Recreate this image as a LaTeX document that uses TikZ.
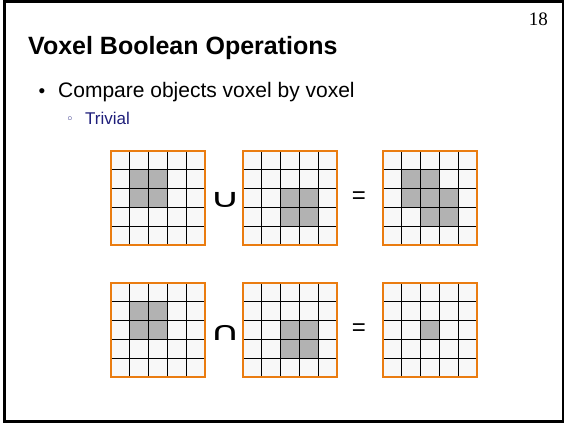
\documentclass[tikz,border=0pt]{standalone}
\usepackage{fontspec}
\setmainfont{Liberation Sans}
\newfontfamily\seriffont{Liberation Serif}
\newfontfamily\symfont{DejaVu Sans}
\usetikzlibrary{positioning}

\definecolor{voxorange}{RGB}{234,124,16}
\definecolor{voxon}{RGB}{178,178,178}
\definecolor{voxoff}{RGB}{248,248,248}
\definecolor{subblue}{RGB}{30,30,122}

% one 5x5 voxel grid, top left corner at (#1,#2), filled cells #3 (col/row)
\newcommand{\voxgrid}[3]{%
  \fill[cellbg] (#1,#2) rectangle ++(94,94);
  \foreach \c/\r in {#3}
    \fill[cellon] ({#1+\c*18.8},{#2+\r*18.8}) rectangle ++(18.8,18.8);
  \foreach \k in {1,...,4} {
    \draw[gridline] ({#1+\k*18.8},#2) -- ++(0,94);
    \draw[gridline] (#1,{#2+\k*18.8}) -- ++(94,0);
  }
  \draw[gridframe] (#1,#2) rectangle ++(94,94);
}

\begin{document}
\begin{tikzpicture}[x=1pt,y=-1pt,
    cellbg/.style={fill=voxoff},
    cellon/.style={fill=voxon},
    gridline/.style={draw=black,line width=0.9pt},
    gridframe/.style={draw=voxorange,line width=1.8pt},
    op/.style={inner sep=0pt,font=\symfont\fontsize{26}{28}\selectfont,xscale=1.6},
    eqsign/.style={inner sep=0pt,font=\fontsize{24}{26}\selectfont}]
  \useasboundingbox (0,0) rectangle (565,425);
  \draw[line width=2.5pt] (4.5,1.5) rectangle (563,421.5);

  \node[anchor=base east,inner sep=0pt,font=\seriffont\fontsize{19}{21}\selectfont] (page) at (548,26) {18};
  \node[anchor=base west,inner sep=0pt,font=\bfseries\fontsize{25}{28}\selectfont] (title) at (28,55) {Voxel Boolean Operations};
  \node[inner sep=0pt,font=\fontsize{19}{21}\selectfont] (bul1) at (42,93) {\textbullet};
  \node[anchor=base west,inner sep=0pt,font=\fontsize{21}{24}\selectfont] (item1) at (58,98) {Compare objects voxel by voxel};
  \node[inner sep=0pt,text=subblue,font=\symfont\fontsize{13}{15}\selectfont] (bul2) at (70,120) {◦};
  \node[anchor=base west,inner sep=0pt,text=subblue,font=\fontsize{17}{19}\selectfont] (item2) at (85,125) {Trivial};

  % union
  \voxgrid{111}{151}{1/1,2/1,1/2,2/2}
  \voxgrid{243}{151}{2/2,3/2,2/3,3/3}
  \voxgrid{383}{151}{1/1,2/1,1/2,2/2,3/2,2/3,3/3}
  \node[op] (cup1) at (225,200) {∪};
  \node[eqsign] (eq1) at (359,198) {=};

  % intersection
  \voxgrid{111}{283}{1/1,2/1,1/2,2/2}
  \voxgrid{243}{283}{2/2,3/2,2/3,3/3}
  \voxgrid{383}{283}{2/2}
  \node[op] (cap2) at (225,333) {∩};
  \node[eqsign] (eq2) at (359,330) {=};
\end{tikzpicture}
\end{document}
